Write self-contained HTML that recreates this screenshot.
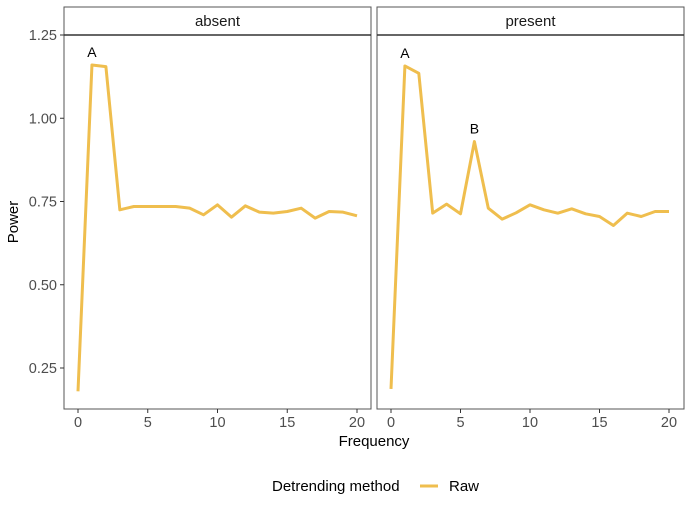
<!DOCTYPE html>
<html><head><meta charset="utf-8"><style>
body{margin:0;background:#fff}
svg{font-family:"Liberation Sans",sans-serif}
</style></head><body>
<svg id="c" width="691" height="511" viewBox="0 0 691 511" xmlns="http://www.w3.org/2000/svg"></svg>
<script>
const freq=[0,1,2,3,4,5,6,7,8,9,10,11,12,13,14,15,16,17,18,19,20];
const absentPower=[0.18,1.16,1.155,0.725,0.735,0.735,0.735,0.735,0.73,0.71,0.74,0.703,0.737,0.718,0.715,0.72,0.73,0.70,0.72,0.718,0.707];
const presentPower=[0.187,1.157,1.135,0.715,0.742,0.713,0.93,0.73,0.697,0.716,0.74,0.725,0.715,0.728,0.713,0.705,0.678,0.715,0.705,0.72,0.72];
const panelNames=["absent","present"];
const yTicks=[0.25,0.50,0.75,1.00,1.25];
const yTickLabels=["0.25","0.50","0.75","1.00","1.25"];
const xTicks=[0,5,10,15,20];
const absentLabels=[{x:1,v:1.16,t:"A"}];
const presentLabels=[{x:1,v:1.157,t:"A"},{x:6,v:0.93,t:"B"}];
const NS="http://www.w3.org/2000/svg";
const svg=document.getElementById('c');
function mk(tag,attrs,parent){const e=document.createElementNS(NS,tag);for(const k in attrs)e.setAttribute(k,attrs[k]);(parent||svg).appendChild(e);return e;}
const plotTop=35,plotBot=409;
function y(v){return 35+(1.25-v)*333;}
const panels=[{l:64,r:371,x0:78,x1:357,data:absentPower,labels:absentLabels},{l:377,r:684,x0:391,x1:669,data:presentPower,labels:presentLabels}];
panels.forEach((p,i)=>{
  const g=mk('g',{});
  
  
  const xs=v=>p.x0+(p.x1-p.x0)*v/20;
  const strip=mk('rect',{x:p.l,y:7,width:p.r-p.l,height:28,fill:'#fff',stroke:'#555','stroke-width':1},g);
  
  
  const st=mk('text',{x:(p.l+p.r)/2,y:26,'text-anchor':'middle','font-size':15,fill:'#1a1a1a'},g);st.textContent=panelNames[i];
  
  
  const fr=mk('rect',{x:p.l,y:plotTop,width:p.r-p.l,height:plotBot-plotTop,fill:'none',stroke:'#555','stroke-width':1},g);
  
  
  mk('line',{x1:p.l,x2:p.r,y1:plotTop,y2:plotTop,stroke:'#333','stroke-width':1.5},g);
  const line=mk('polyline',{points:freq.map((f,j)=>xs(f)+','+y(p.data[j])).join(' '),fill:'none',stroke:'#EFBE4E','stroke-width':3,'stroke-linejoin':'round'},g);
  
  
  p.labels.forEach(L=>{const t=mk('text',{x:xs(L.x),y:y(L.v)-8,'text-anchor':'middle','font-size':14,fill:'#000'},g);t.textContent=L.t;
    
    });
  xTicks.forEach(t=>{mk('line',{x1:xs(t),x2:xs(t),y1:plotBot,y2:plotBot+4,stroke:'#333'},g);
    const tx=mk('text',{x:xs(t),y:plotBot+18,'text-anchor':'middle','font-size':14.5,fill:'#4d4d4d'},g);tx.textContent=t;
    
    });
});
yTicks.forEach((t,i)=>{mk('line',{x1:60,x2:64,y1:y(t),y2:y(t),stroke:'#333'});
  const tx=mk('text',{x:57,y:y(t)+5,'text-anchor':'end','font-size':14.5,fill:'#4d4d4d'});tx.textContent=yTickLabels[i];
  
  });
const xt=mk('text',{x:374,y:446,'text-anchor':'middle','font-size':15,fill:'#000'});xt.textContent='Frequency';


const yt=mk('text',{x:18,y:222,'text-anchor':'middle','font-size':15,fill:'#000',transform:'rotate(-90 18 222)'});yt.textContent='Power';


const lg=mk('g',{});


const lt=mk('text',{x:272,y:491,'font-size':15,fill:'#000'},lg);lt.textContent='Detrending method';


const ll=mk('line',{x1:420,x2:438,y1:486,y2:486,stroke:'#EFBE4E','stroke-width':3},lg);


const lr=mk('text',{x:449,y:491,'font-size':15,fill:'#000'},lg);lr.textContent='Raw';


</script>
</body></html>
